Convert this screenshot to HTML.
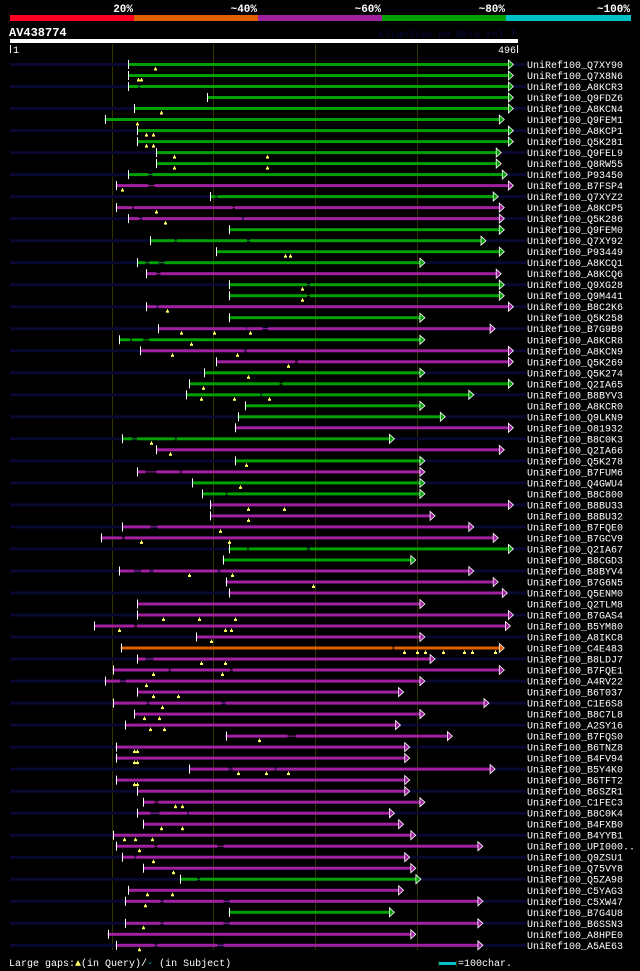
<!DOCTYPE html>
<html><head><meta charset="utf-8">
<style>
html,body{margin:0;padding:0;background:#000;}
body{width:640px;height:971px;overflow:hidden;}
svg{display:block;}
text{font-family:"Liberation Mono","DejaVu Sans Mono",monospace;}
</style></head>
<body>
<svg id="chart" width="640" height="971" viewBox="0 0 640 971" xmlns="http://www.w3.org/2000/svg">
  <rect x="0" y="0" width="640" height="971" fill="#000"/>
  <g>
    <rect x="10" y="15" width="124" height="6" fill="#ff0020"/>
    <rect x="134" y="15" width="124" height="6" fill="#e06000"/>
    <rect x="258" y="15" width="124" height="6" fill="#a020a0"/>
    <rect x="382" y="15" width="124" height="6" fill="#00a000"/>
    <rect x="506" y="15" width="125" height="6" fill="#00c0c8"/>
    <g fill="#fff" font-size="11" font-weight="bold" text-anchor="end">
      <text x="133" y="12">20%</text>
      <text x="257" y="12">~40%</text>
      <text x="381" y="12">~60%</text>
      <text x="505" y="12">~80%</text>
      <text x="630" y="12">~100%</text>
    </g>
  </g>
  <text x="9" y="36" fill="#fff" font-size="12" font-weight="bold">AV438774</text>
  <text x="516" y="37" fill="#06062a" font-size="10" font-weight="bold" text-anchor="end">AlignView.pm Beta rel.7</text>
  <rect x="10" y="39" width="508" height="4" fill="#fff"/>
  <rect x="10" y="45" width="1" height="8" fill="#fff"/>
  <text x="13" y="53" fill="#fff" font-size="10">1</text>
  <text x="516" y="53" fill="#fff" font-size="10" text-anchor="end">496</text>
  <rect x="517" y="45" width="1" height="8" fill="#fff"/>
  <g id="grid"></g>
  <g id="rows"></g>
  <g>
    <text x="9" y="966" fill="#fff" font-size="10">Large gaps:<tspan fill="#ffff60">▲</tspan>(in Query)/<tspan fill="#00c0c8">-</tspan> (in Subject)</text>
    <rect x="438" y="961" width="1" height="6" fill="#333300"/>
    <rect x="439" y="962" width="17" height="3" fill="#00c0c8"/>
    <rect x="456" y="961" width="1" height="6" fill="#333300"/>
    <text x="458" y="966" fill="#fff" font-size="10">=100char.</text>
  </g>
</svg>
<script>
const gridTicks = [100, 200, 300, 400];
const labels = ["UniRef100_Q7XY90","UniRef100_Q7X8N6","UniRef100_A8KCR3","UniRef100_Q9FDZ6","UniRef100_A8KCN4","UniRef100_Q9FEM1","UniRef100_A8KCP1","UniRef100_Q5K281","UniRef100_Q9FEL9","UniRef100_Q8RW55","UniRef100_P93450","UniRef100_B7FSP4","UniRef100_Q7XYZ2","UniRef100_A8KCP5","UniRef100_Q5K286","UniRef100_Q9FEM0","UniRef100_Q7XY92","UniRef100_P93449","UniRef100_A8KCQ1","UniRef100_A8KCQ6","UniRef100_Q9XG28","UniRef100_Q9M441","UniRef100_B8C2K6","UniRef100_Q5K258","UniRef100_B7G9B9","UniRef100_A8KCR8","UniRef100_A8KCN9","UniRef100_Q5K269","UniRef100_Q5K274","UniRef100_Q2IA65","UniRef100_B8BYV3","UniRef100_A8KCR0","UniRef100_Q9LKN9","UniRef100_O81932","UniRef100_B8C0K3","UniRef100_Q2IA66","UniRef100_Q5K278","UniRef100_B7FUM6","UniRef100_Q4GWU4","UniRef100_B8C800","UniRef100_B8BU33","UniRef100_B8BU32","UniRef100_B7FQE0","UniRef100_B7GCV9","UniRef100_Q2IA67","UniRef100_B8CGD3","UniRef100_B8BYV4","UniRef100_B7G6N5","UniRef100_Q5ENM0","UniRef100_Q2TLM8","UniRef100_B7GAS4","UniRef100_B5YM80","UniRef100_A8IKC8","UniRef100_C4E483","UniRef100_B8LDJ7","UniRef100_B7FQE1","UniRef100_A4RV22","UniRef100_B6T037","UniRef100_C1E6S8","UniRef100_B8C7L8","UniRef100_A2SY16","UniRef100_B7FQS0","UniRef100_B6TNZ8","UniRef100_B4FV94","UniRef100_B5Y4K0","UniRef100_B6TFT2","UniRef100_B6SZR1","UniRef100_C1FEC3","UniRef100_B8C0K4","UniRef100_B4FXB0","UniRef100_B4YYB1","UniRef100_UPI000..","UniRef100_Q9ZSU1","UniRef100_Q75VY8","UniRef100_Q5ZA98","UniRef100_C5YAG3","UniRef100_C5XW47","UniRef100_B7G4U8","UniRef100_B6SSN3","UniRef100_A8HPE0","UniRef100_A5AE63"];
const starts = [116,116,116,194,122,93,125,125,144,144,116,104,197,104,116,215,138,203,125,134,215,215,134,215,146,107,128,203,191,176,173,231,224,221,110,144,221,125,179,189,197,197,110,89,215,209,107,212,215,125,125,83,183,109,125,101,93,125,101,122,113,212,104,104,176,104,125,131,125,131,101,104,110,131,167,116,113,215,113,96,104];
const ends = [495,495,495,495,495,486,495,495,483,483,489,495,480,486,486,486,468,486,408,483,486,486,495,408,477,408,495,495,408,495,456,408,428,495,378,486,408,408,408,408,495,418,456,480,495,399,456,480,489,408,495,492,408,486,418,486,408,387,471,408,384,435,393,393,477,393,393,408,378,387,399,465,393,399,404,387,465,378,465,399,465];
const colors = "gggggggggggmgmmggggmggmgmgmmgggggmgmgmggmmmmggmmmmmmmommmmmmmmmmmmmmmmmmmmgmmgmmm";
const gaps = [[],[],[[126,128]],[],[],[],[],[],[],[],[[136,140]],[[136,142]],[[202,204]],[[120,122],[219,221]],[[127,130],[228,230]],[],[[162,164],[233,236]],[],[[133,137],[146,152]],[[144,148]],[[292,295]],[[292,295]],[[144,146]],[],[[232,233],[248,254]],[[118,120],[131,137]],[[230,233]],[[280,283]],[],[[265,268]],[[246,248]],[],[],[],[[120,125],[162,164]],[],[],[[133,144],[167,169]],[],[[212,214]],[],[],[[138,145]],[[110,113]],[[233,235],[292,295]],[],[[122,129],[137,141],[204,207]],[],[],[],[],[[122,125]],[],[[376,378]],[[133,141]],[[156,158],[216,219]],[[108,114]],[],[[134,137],[208,212]],[],[],[[273,281]],[],[],[[215,219],[260,262]],[],[],[[142,146]],[[138,147],[174,176]],[],[],[[142,145],[204,210]],[[122,124]],[],[[184,187]],[],[[148,151],[210,216]],[],[[148,151],[210,216]],[],[[142,145],[204,210]]];
const markers = [[143],[126,129],[],[],[148],[125],[134,141],[134,141],[161,253],[161,253],[],[110],[],[144],[152],[],[],[270,275],[],[],[287],[287],[154],[],[168,201,236],[178],[159,223],[273],[234],[190],[188,220,255],[],[],[],[139],[157],[232],[],[226],[],[234,269],[234],[206],[129,215],[],[],[176,218],[298],[],[],[150,186,221],[107,211,217],[198],[387,400,408,426,446,454,477],[188,211],[141,208],[134],[141,165],[149],[132,147],[138,151],[245],[122,125],[122,125],[224,252,273],[122,125],[],[162,169],[],[148,169],[112,123,140],[127],[141],[160],[],[135,159],[133],[],[131],[],[127]];

const NS = "http://www.w3.org/2000/svg";
const xAxis = p => 10 + p * 1.017;
const yRow = i => 64.5 + i * 11.01;
const fillOf = {g:"#00a000", m:"#a020a0", o:"#e06000"};
function mk(tag, attrs, parent){ const e=document.createElementNS(NS,tag); for(const k in attrs) e.setAttribute(k,attrs[k]); parent.appendChild(e); return e; }

const grid = document.getElementById('grid');
gridTicks.forEach(t => {
  const l = mk('rect',{x:Math.round(xAxis(t)),y:44,width:1,height:906,fill:'#333300'},grid);
  
  
});

const rowsG = document.getElementById('rows');
labels.forEach((lab, i) => {
  const y = yRow(i);
  const g = mk('g',{},rowsG);
  
  
  if (i % 2 === 0) mk('rect',{x:10,y:(y-1.5).toFixed(1),width:516,height:3,fill:'#080830'},g);
  const c = fillOf[colors[i]];
  const x0 = xAxis(starts[i]), tip = xAxis(ends[i]), base = tip - 5;
  const gp = gaps[i];
  let cur = x0;
  const segs = [];
  gp.forEach(([a,b]) => { segs.push([cur, xAxis(a)]); cur = xAxis(b); });
  segs.push([cur, base]);
  mk('rect',{x:x0.toFixed(1),y:(y-0.5).toFixed(1),width:(base-x0).toFixed(1),height:1,fill:c},g);
  segs.forEach(([a,b]) => {
    const r = mk('rect',{x:a.toFixed(1),y:(y-1.5).toFixed(1),width:Math.max(0,b-a).toFixed(1),height:3,fill:c},g);
    
    
  });
  mk('rect',{x:Math.round(x0),y:(y-4.5).toFixed(1),width:1,height:9,fill:'#fff'},g);
  const a = mk('polygon',{points:`${base.toFixed(1)},${(y-4.5).toFixed(1)} ${tip.toFixed(1)},${y.toFixed(1)} ${base.toFixed(1)},${(y+4.5).toFixed(1)}`,fill:c,stroke:'#fff','stroke-width':0.8},g);
  
  
  markers[i].forEach(m => {
    const mx = Math.round(xAxis(m));
    const mm = mk('g',{fill:'#ffff60'},g);
    
    
    mk('rect',{x:mx,y:(y+2.5).toFixed(1),width:1,height:2},mm);
    mk('rect',{x:mx-1,y:(y+4).toFixed(1),width:3,height:2},mm);
  });
  const t = mk('text',{x:527,y:(y+3.5).toFixed(1),fill:'#fff','font-size':10},g);
  t.textContent = lab;
  
  
});
</script>
</body></html>
